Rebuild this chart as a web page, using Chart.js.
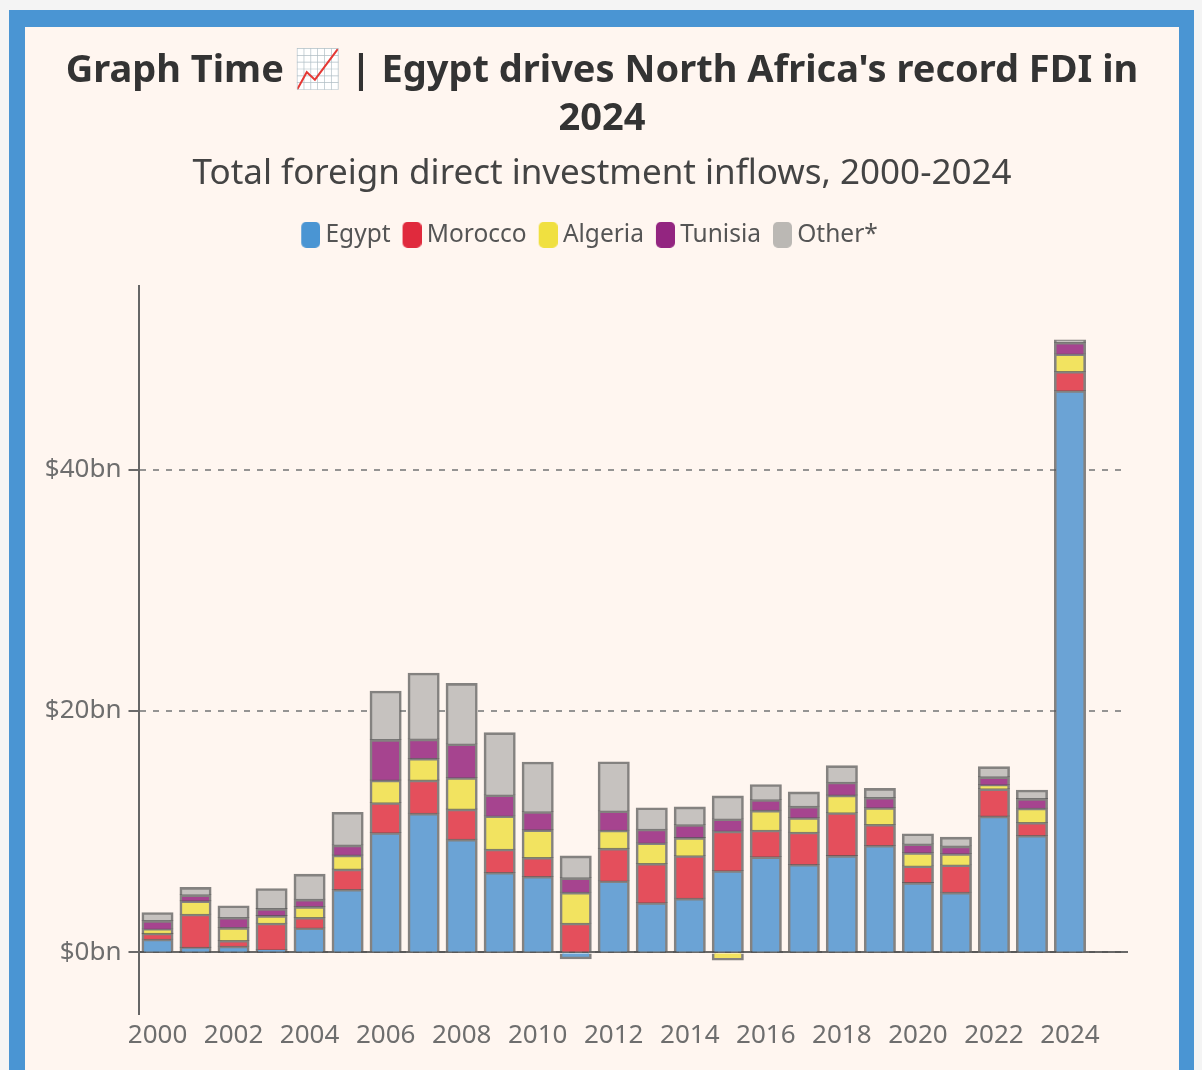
<!DOCTYPE html>
<html>
<head>
<meta charset="utf-8">
<script src="https://cdn.jsdelivr.net/npm/chart.js@4"></script>
<style>
html,body{margin:0;padding:0;background:#f4f4f4;overflow:hidden;width:1202px;height:1070px}
#card{position:absolute;left:9px;top:10px;width:1154px;height:1060px;border:15px solid #4a95d3;border-left-width:16px;border-top-width:17px;border-bottom:0;background:#fff6f0}
#wrap{position:absolute;left:0;top:0;width:1154px;height:1043px}
canvas{filter:blur(0.45px)}
</style>
</head>
<body>
<div id="card"><div id="wrap"><canvas id="c" width="1154" height="1043"></canvas></div></div>
<script>
const years=['2000','2001','2002','2003','2004','2005','2006','2007','2008','2009','2010','2011','2012','2013','2014','2015','2016','2017','2018','2019','2020','2021','2022','2023','2024','2025'];
const egypt=[1.07,0.4,0.5,0.2,2.0,5.2,9.9,11.5,9.35,6.6,6.27,-0.5,5.9,4.1,4.46,6.75,7.9,7.27,8.0,8.84,5.76,4.96,11.27,9.67,46.5];
const morocco=[0.5,2.75,0.47,2.2,0.88,1.68,2.48,2.75,2.5,1.93,1.57,2.4,2.7,3.25,3.53,3.28,2.2,2.67,3.55,1.74,1.38,2.26,2.26,1.07,1.6];
const algeria=[0.35,1.1,1.07,0.63,0.9,1.16,1.87,1.8,2.6,2.75,2.29,2.56,1.5,1.7,1.5,-0.6,1.65,1.2,1.46,1.38,1.1,0.94,0.33,1.18,1.45];
const tunisia=[0.7,0.5,0.83,0.58,0.6,0.83,3.36,1.6,2.8,1.74,1.5,1.2,1.6,1.13,1.07,1.0,0.88,0.94,1.07,0.85,0.72,0.63,0.66,0.8,0.95];
const other=[0.65,0.6,0.96,1.65,2.07,2.7,4.0,5.45,5.0,5.15,4.1,1.8,4.05,1.76,1.46,1.9,1.24,1.18,1.35,0.74,0.83,0.72,0.83,0.69,0.2];
const yTicks=[0,20,40];
const titleLines=["Graph Time 📈 | Egypt drives North Africa's record FDI in","2024"];
const subtitleText="Total foreign direct investment inflows, 2000-2024";

const FONT='"Noto Sans","Open Sans",sans-serif';
const stroke='rgba(85,85,85,0.72)';
function ds(label,data,legendColor,fill){
  return {label,data,backgroundColor:fill,borderColor:stroke,borderWidth:2.6,inflateAmount:0.8,legendColor,barPercentage:0.8,categoryPercentage:1,stack:'s'};
}
// Legend swatch: 19x26 rounded box, sitting 7px right of the legend item's start so it hugs its label.
function swatch(color){
  const cv=document.createElement('canvas');cv.width=33;cv.height=26;
  const g=cv.getContext('2d');g.fillStyle=color;g.beginPath();g.roundRect(14,0,19,26,5);g.fill();
  return cv;
}
const legendTweak={id:'legendTweak',
  beforeInit(c){const f=c.legend.fit;c.legend.fit=function(){f.call(this);this.height+=29;};},
  afterLayout(c){c.legend.left-=32;}
};
new Chart(document.getElementById('c'),{
  type:'bar',
  plugins:[legendTweak],
  data:{labels:years,datasets:[
    ds('Egypt',egypt,'#4a95d3','#6ba3d5'),
    ds('Morocco',morocco,'#e02a3d','#e44f5c'),
    ds('Algeria',algeria,'#f0e040','#f2e360'),
    ds('Tunisia',tunisia,'#932580','#a6448f'),
    ds('Other*',other,'#bbb8b4','#c6c2bf')
  ]},
  options:{
    responsive:false,animation:false,
    layout:{padding:{left:0,right:0,top:20,bottom:21}},
    plugins:{
      title:{display:true,text:titleLines,color:'#333333',font:{family:FONT,size:38,weight:'bold',lineHeight:1.26},padding:{top:0,bottom:9}},
      subtitle:{display:true,text:subtitleText,color:'#444444',font:{family:FONT,size:35,weight:'normal',lineHeight:1.25},padding:{top:0,bottom:22}},
      legend:{display:true,position:'top',align:'center',
        labels:{usePointStyle:true,pointStyleWidth:19,boxHeight:26,padding:5,color:'#555555',font:{family:FONT,size:24.5},
          generateLabels(chart){return chart.data.datasets.map((d,i)=>({text:d.label,pointStyle:swatch(d.legendColor),fillStyle:d.legendColor,strokeStyle:'transparent',lineWidth:0,fontColor:'#555555',datasetIndex:i}));}
        }},
      tooltip:{enabled:false}
    },
    scales:{
      x:{stacked:true,type:'category',offset:true,grid:{display:false},border:{display:false},
        ticks:{autoSkip:false,maxRotation:0,minRotation:0,padding:-2,color:'#6e6e6e',font:{family:FONT,size:26},
          callback(v,i){return i%2===0&&i<25?years[i]:'';}}},
      zero:{type:'category',axis:'x',labels:years,position:{y:0},grid:{display:false},z:2,
        border:{display:true,color:'rgba(80,80,80,0.85)',width:2},ticks:{display:false}},
      y:{stacked:true,min:-5.08,max:55.2,position:'left',
        afterFit(s){s.width=113.5;},
        afterBuildTicks(s){s.ticks=yTicks.map(value=>({value}));},
        grid:{color:'rgba(130,130,130,0.85)',lineWidth:2,tickColor:'rgba(90,90,90,0.9)',tickLength:10,drawTicks:true},
        border:{display:true,color:'#666666',width:2,dash:[6,7]},
        ticks:{padding:7,color:'#6e6e6e',font:{family:FONT,size:26},callback(v){return '$'+v+'bn';}}},
      rightGap:{type:'linear',position:'right',display:true,min:0,max:1,
        afterFit(s){s.width=52;},grid:{display:false},border:{display:false},ticks:{display:false}}
    }
  }
});
</script>
</body>
</html>
